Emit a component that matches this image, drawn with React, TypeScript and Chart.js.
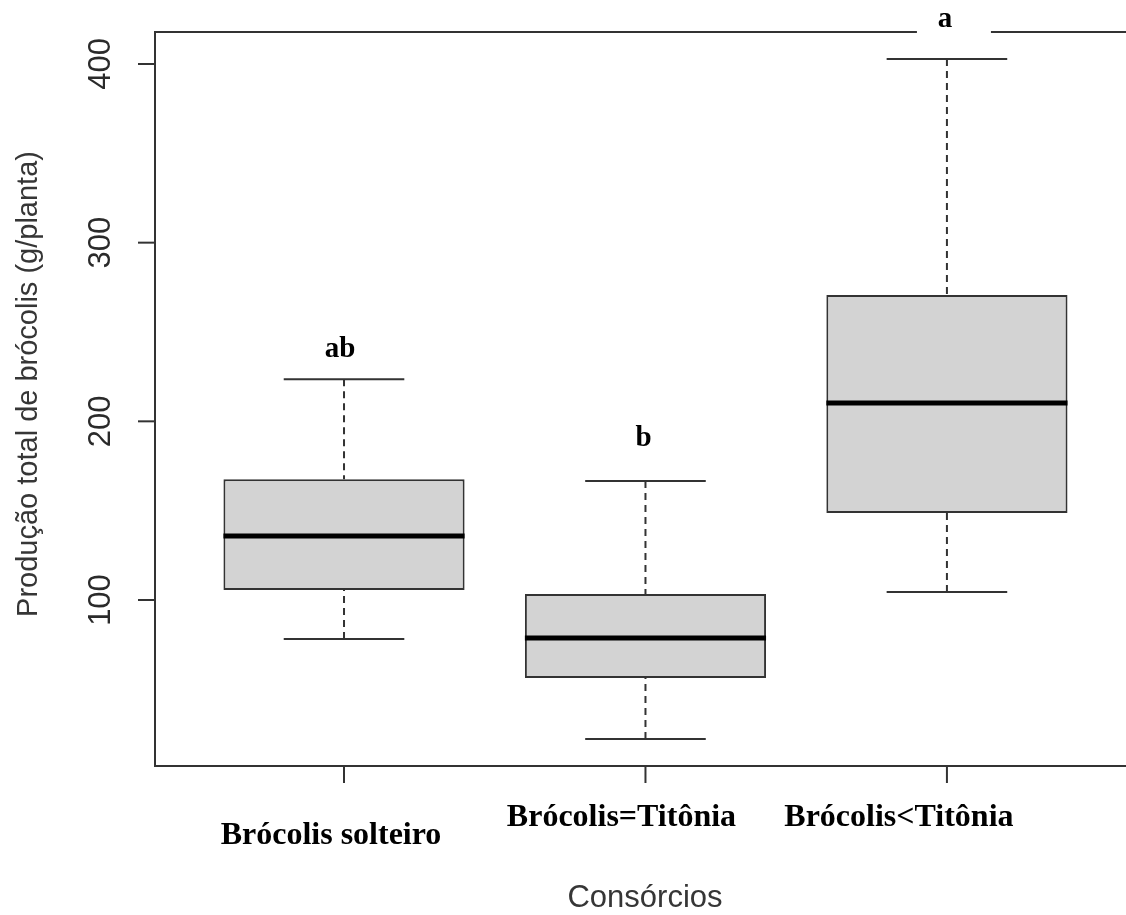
import { useEffect, useRef } from "react";
import { Chart, registerables } from "chart.js";

Chart.register(...registerables);

// Treatments (x positions 1..3) and their five-number summaries
const categories = ["Brócolis solteiro", "Brócolis=Titônia", "Brócolis<Titônia"];
const positions = [1, 2, 3];
const lowerWhisker = [78.2, 22.2, 104.5];
const q1 = [105.6, 56.3, 148.7];
const median = [135.8, 78.7, 210.3];
const q3 = [167.6, 103.4, 270.7];
const upperWhisker = [223.5, 166.6, 402.8];
const groupLetters = ["ab", "b", "a"];
const yTicks = [100, 200, 300, 400];
const yTitle = "Produção total de brócolis (g/planta)";
const xTitle = "Consórcios";

// Layout tweaks for the hand-placed labels
const CATEGORY_DX = [-13, -24, -48];
const CATEGORY_BASELINE = [78, 60, 60]; // below the plot's bottom edge
const LETTER_DX = [-4, -2, -2];
const LETTER_GAP = [22, 35, 32]; // above the upper whisker cap

const LINE = "#333333";
const SANS = '"Liberation Sans", Arial, Helvetica, sans-serif';
const SERIF = '"Liberation Serif", "Times New Roman", serif';

const boxplotDecor = {
  id: "boxplotDecor",
  afterDatasetsDraw(chart: any) {
    const { ctx, chartArea } = chart;
    const x = chart.scales.x;
    const y = chart.scales.y;
    const { left, right, top, bottom } = chartArea;
    ctx.save();

    positions.forEach((p, i) => {
      const cx = x.getPixelForValue(p);
      const halfBox = x.getPixelForValue(p + 0.4) - cx;
      const halfCap = x.getPixelForValue(p + 0.2) - cx;

      // median
      ctx.strokeStyle = "#000";
      ctx.lineWidth = 5;
      ctx.setLineDash([]);
      ctx.beginPath();
      const my = y.getPixelForValue(median[i]);
      ctx.moveTo(cx - halfBox, my);
      ctx.lineTo(cx + halfBox, my);
      ctx.stroke();

      // whiskers (dashed) from cap to box
      const hi = y.getPixelForValue(upperWhisker[i]);
      const lo = y.getPixelForValue(lowerWhisker[i]);
      const top3 = y.getPixelForValue(q3[i]);
      const bot1 = y.getPixelForValue(q1[i]);
      ctx.strokeStyle = LINE;
      ctx.lineWidth = 2;
      ctx.setLineDash([7, 5]);
      ctx.beginPath();
      ctx.moveTo(cx, hi);
      ctx.lineTo(cx, top3);
      ctx.moveTo(cx, lo);
      ctx.lineTo(cx, bot1);
      ctx.stroke();

      // caps
      ctx.setLineDash([]);
      ctx.beginPath();
      ctx.moveTo(cx - halfCap, hi);
      ctx.lineTo(cx + halfCap, hi);
      ctx.moveTo(cx - halfCap, lo);
      ctx.lineTo(cx + halfCap, lo);
      ctx.stroke();
    });

    // frame
    ctx.strokeStyle = LINE;
    ctx.lineWidth = 2;
    ctx.setLineDash([]);
    ctx.beginPath();
    ctx.moveTo(right + 2, top);
    ctx.lineTo(left, top);
    ctx.lineTo(left, bottom);
    ctx.lineTo(right + 2, bottom);
    ctx.stroke();

    // y ticks and rotated labels
    ctx.fillStyle = "#2a2a2a";
    ctx.font = `31px ${SANS}`;
    yTicks.forEach((v) => {
      const py = y.getPixelForValue(v);
      ctx.beginPath();
      ctx.moveTo(left - 17, py);
      ctx.lineTo(left, py);
      ctx.stroke();
      ctx.save();
      ctx.translate(110, py);
      ctx.rotate(-Math.PI / 2);
      ctx.textAlign = "center";
      ctx.textBaseline = "alphabetic";
      ctx.fillText(String(v), 0, 0);
      ctx.restore();
    });

    // x ticks and category labels
    ctx.fillStyle = "#000";
    ctx.font = `bold 32px ${SERIF}`;
    ctx.textAlign = "center";
    ctx.textBaseline = "alphabetic";
    positions.forEach((p, i) => {
      const px = x.getPixelForValue(p);
      ctx.beginPath();
      ctx.moveTo(px, bottom);
      ctx.lineTo(px, bottom + 17);
      ctx.stroke();
      ctx.fillText(categories[i], px + CATEGORY_DX[i], bottom + CATEGORY_BASELINE[i]);
    });

    // significance letters with white backing
    ctx.font = `bold 29px ${SERIF}`;
    positions.forEach((p, i) => {
      const px = x.getPixelForValue(p) + LETTER_DX[i];
      const base = y.getPixelForValue(upperWhisker[i]) - LETTER_GAP[i];
      ctx.fillStyle = "#fff";
      ctx.fillRect(px - 28, base - 30, 74, 39);
      ctx.fillStyle = "#000";
      ctx.fillText(groupLetters[i], px, base);
    });

    // axis titles
    ctx.fillStyle = "#363636";
    ctx.font = `29px ${SANS}`;
    ctx.save();
    ctx.translate(37, 384);
    ctx.rotate(-Math.PI / 2);
    ctx.textAlign = "center";
    ctx.fillText(yTitle, 0, 0);
    ctx.restore();

    ctx.font = `31px ${SANS}`;
    ctx.textAlign = "center";
    ctx.fillText(xTitle, 645, 907);

    ctx.restore();
  },
};

export default function App() {
  const canvasRef = useRef<HTMLCanvasElement | null>(null);

  useEffect(() => {
    const canvas = canvasRef.current;
    if (!canvas) return;
    const chart = new Chart(canvas, {
      type: "bar",
      data: {
        datasets: [
          {
            data: positions.map((p, i) => ({ x: p, y: [q1[i], q3[i]] })) as any,
            backgroundColor: "#d3d3d3",
            borderColor: LINE,
            borderWidth: 2,
            borderSkipped: false,
            barPercentage: 0.8,
            categoryPercentage: 1,
          },
        ],
      },
      options: {
        animation: false,
        responsive: true,
        maintainAspectRatio: false,
        devicePixelRatio: 1,
        events: [],
        layout: { padding: { left: 155, top: 32, right: 0, bottom: 149 } },
        plugins: {
          legend: { display: false },
          tooltip: { enabled: false },
          title: { display: false },
        },
        scales: {
          x: {
            type: "linear",
            display: false,
            offset: false,
            min: 0.373,
            max: 3.594,
            afterBuildTicks: (scale: any) => {
              scale.ticks = positions.map((v) => ({ value: v }));
            },
          },
          y: {
            type: "linear",
            display: false,
            min: 7.1,
            max: 417.9,
          },
        },
      },
      plugins: [boxplotDecor],
    });
    return () => chart.destroy();
  }, []);

  return (
    <div
      style={{
        position: "absolute",
        left: 0,
        top: 0,
        width: 1126,
        height: 915,
        background: "#fff",
      }}
    >
      <canvas ref={canvasRef} />
    </div>
  );
}
